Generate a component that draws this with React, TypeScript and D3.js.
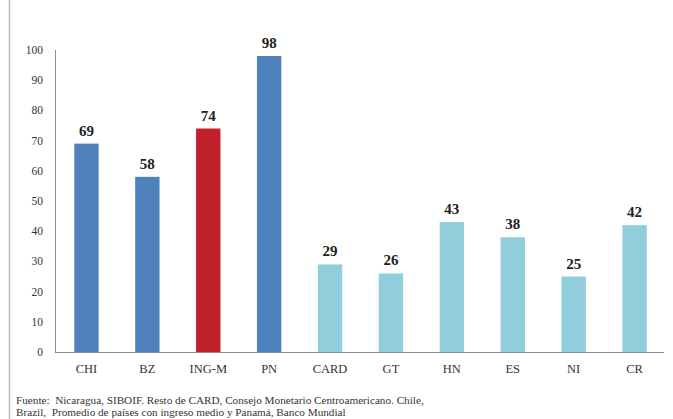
import React, { useEffect, useRef } from 'react';
import * as d3 from 'd3';

const categories = ["CHI", "BZ", "ING-M", "PN", "CARD", "GT", "HN", "ES", "NI", "CR"];
const values = [69, 58, 74, 98, 29, 26, 43, 38, 25, 42];
const groups = ["ref", "ref", "avg", "ref", "ca", "ca", "ca", "ca", "ca", "ca"];
const yTicks = [0, 10, 20, 30, 40, 50, 60, 70, 80, 90, 100];
const footnote = [
  "Fuente:  Nicaragua, SIBOIF. Resto de CARD, Consejo Monetario Centroamericano. Chile,",
  "Brazil,  Promedio de países con ingreso medio y Panamá, Banco Mundial",
];

const App = () => {
  const svgRef = useRef<SVGSVGElement>(null);

  useEffect(() => {
    const svg = d3.select(svgRef.current);
    svg.selectAll("*").remove();

    const width = 673;
    const height = 419;
    const font = "'Liberation Serif', 'DejaVu Serif', serif";

    svg.attr("width", width).attr("height", height);

    // page border line on the left
    svg.append("line")
      .attr("x1", 9.5).attr("x2", 9.5)
      .attr("y1", 0).attr("y2", height)
      .attr("stroke", "#b8b8b8")
      .attr("stroke-width", 1.5);

    const x = d3.scaleBand()
      .domain(categories)
      .range([56, 665])
      .paddingInner(0.6)
      .paddingOuter(0.3);

    const y = d3.scaleLinear().domain([0, 100]).range([352, 50]);

    const color = d3.scaleOrdinal<string>()
      .domain(["ref", "avg", "ca"])
      .range(["#4f81bd", "#c0202a", "#92cddc"]);

    // Y axis
    svg.append("line")
      .attr("x1", 55.5).attr("x2", 55.5)
      .attr("y1", y(100)).attr("y2", y(0))
      .attr("stroke", "#8c8c8c");

    svg.selectAll(".ytick")
      .data(yTicks)
      .enter()
      .append("text")
      .attr("x", 43)
      .attr("y", d => y(d))
      .attr("dy", "0.35em")
      .attr("text-anchor", "end")
      .style("font-family", font)
      .style("font-size", "11.5px")
      .style("fill", "#333")
      .text(d => d);

    // BARS
    svg.selectAll("rect")
      .data(values)
      .enter()
      .append("rect")
      .attr("x", (d, i) => x(categories[i])!)
      .attr("y", d => y(d))
      .attr("width", x.bandwidth())
      .attr("height", d => y(0) - y(d))
      .attr("fill", (d, i) => color(groups[i]));

    // X axis line
    svg.append("line")
      .attr("x1", 55).attr("x2", 664)
      .attr("y1", y(0) + 0.5).attr("y2", y(0) + 0.5)
      .attr("stroke", "#8c8c8c");

    // VALUE LABELS
    svg.selectAll(".val")
      .data(values)
      .enter()
      .append("text")
      .attr("x", (d, i) => x(categories[i])! + x.bandwidth() / 2)
      .attr("y", d => y(d) - 8)
      .attr("text-anchor", "middle")
      .style("font-family", font)
      .style("font-size", "15px")
      .style("font-weight", "bold")
      .style("fill", "#222")
      .text(d => d);

    // CATEGORY LABELS
    svg.selectAll(".cat")
      .data(categories)
      .enter()
      .append("text")
      .attr("x", d => x(d)! + x.bandwidth() / 2)
      .attr("y", 373)
      .attr("text-anchor", "middle")
      .style("font-family", font)
      .style("font-size", "12.5px")
      .style("fill", "#333")
      .text(d => d);

    // FOOTNOTE
    svg.selectAll(".foot")
      .data(footnote)
      .enter()
      .append("text")
      .attr("x", 16)
      .attr("y", (d, i) => 404 + i * 12)
      .style("font-family", font)
      .style("font-size", "11.2px")
      .style("white-space", "pre")
      .style("fill", "#333")
      .text(d => d);
  }, []);

  return <svg ref={svgRef} style={{ position: "absolute", left: 0, top: 0 }} />;
};

export default App;
